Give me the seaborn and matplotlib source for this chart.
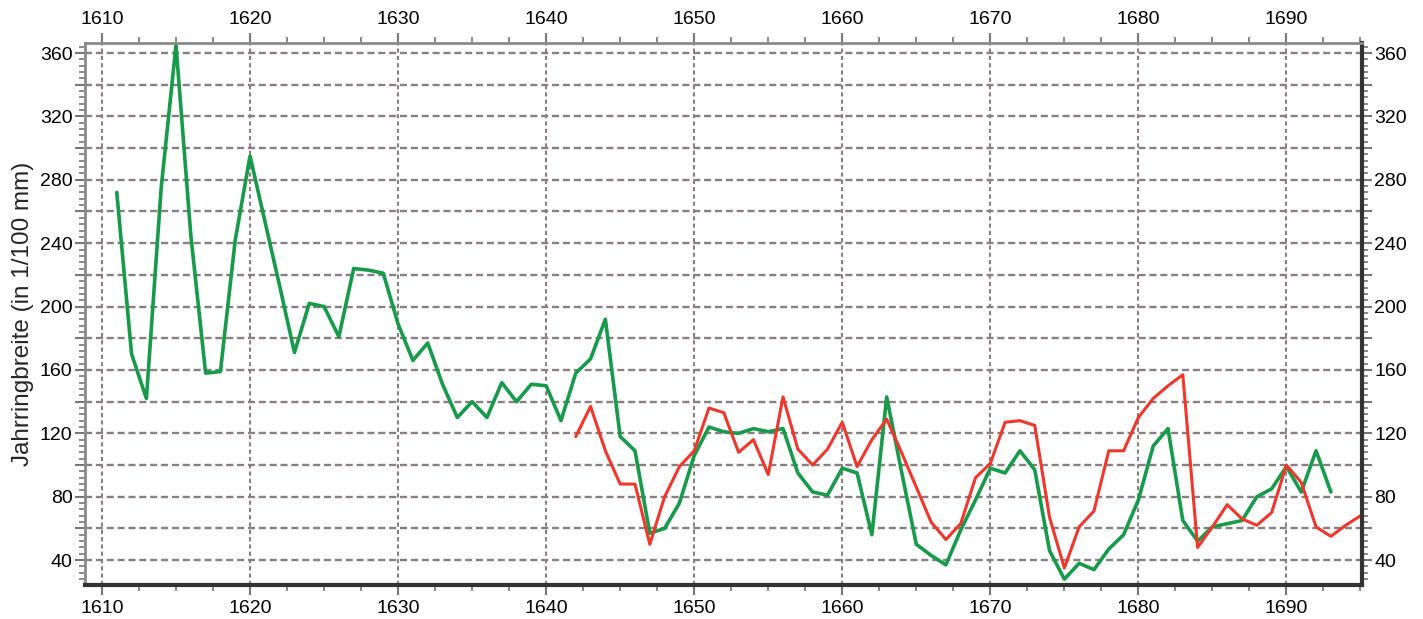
import pandas as pd
import matplotlib.pyplot as plt
import seaborn as sns
from matplotlib.ticker import MultipleLocator, FuncFormatter

sns.set_style("white")
plt.rcParams['font.family'] = ['Liberation Sans', 'DejaVu Sans']

# ---------------------------------------------------------
# Data
# ---------------------------------------------------------
green_years = list(range(1611, 1694))
green_vals = [272, 170, 142, 275, 365, 245, 158, 159, 242, 295,
              254, 213, 171, 202, 200, 181, 224, 223, 221, 189,
              166, 177, 151, 130, 140, 130, 152, 140, 151, 150,
              128, 158, 167, 192, 118, 109, 57, 60, 76, 106,
              124, 121, 120, 123, 121, 123, 95, 83, 81, 98,
              95, 56, 143, 96, 50, 43, 37, 59, 78, 98,
              95, 109, 97, 46, 28, 38, 34, 47, 56, 78,
              112, 123, 65, 52, 61, 63, 65, 80, 85, 99,
              83, 109, 83]

red_years = list(range(1642, 1696))
red_vals = [118, 137, 109, 88, 88, 50, 80, 99, 109, 136,
            133, 108, 116, 94, 143, 110, 100, 110, 127, 99,
            116, 129, 108, 86, 64, 53, 63, 92, 101, 127,
            128, 125, 67, 35, 61, 71, 109, 109, 130, 142,
            150, 157, 48, 61, 75, 66, 62, 70, 100, 89,
            61, 55, 62, 68]

green = pd.DataFrame({"year": green_years, "width": green_vals})
red = pd.DataFrame({"year": red_years, "width": red_vals})

# ---------------------------------------------------------
# Plot
# ---------------------------------------------------------
fig = plt.figure(figsize=(14.23, 6.19), dpi=100)
ax = fig.add_axes([0.0597, 0.0549, 0.8974, 0.8756])

sns.lineplot(data=green, x="year", y="width", color="#179a4a", linewidth=2.6, ax=ax)
sns.lineplot(data=red, x="year", y="width", color="#f0372c", linewidth=2.2, ax=ax)

ax.set_xlim(1608.85, 1695.1)
ax.set_ylim(24.3, 366.3)

ax.xaxis.set_major_locator(MultipleLocator(10))
ax.xaxis.set_minor_locator(MultipleLocator(2.5))
ax.yaxis.set_major_locator(MultipleLocator(20))
ax.yaxis.set_minor_locator(MultipleLocator(4))
ax.yaxis.set_major_formatter(FuncFormatter(lambda v, p: f"{int(v)}" if int(v) % 40 == 0 else ""))

# dashed grid: horizontal every 20, vertical at the decades
ax.grid(True, axis="y", which="major", color="#8a8080", linestyle=(0, (3, 1.6)), linewidth=1.7)
ax.grid(True, axis="x", which="major", color="#8a8080", linestyle=(0, (2, 1.5)), linewidth=1.5)

ax.tick_params(axis="both", which="both", direction="out", labelsize=14, colors="#777777",
               labelcolor="black", top=True, right=True, left=True, bottom=True,
               labeltop=True, labelright=True)
ax.tick_params(axis="both", which="major", length=7, width=1.5)
ax.tick_params(axis="both", which="minor", length=4, width=1.2)
ax.tick_params(axis="y", which="both", pad=2)

for side in ["left", "top"]:
    ax.spines[side].set_color("#8a8a8a")
    ax.spines[side].set_linewidth(2)
for side in ["right", "bottom"]:
    ax.spines[side].set_color("#333333")
    ax.spines[side].set_linewidth(3)

ax.set_xlabel("")
ax.set_ylabel("Jahrringbreite (in 1/100 mm)", fontsize=17.5, labelpad=4)

plt.savefig("out.png", dpi=100)
plt.close()
